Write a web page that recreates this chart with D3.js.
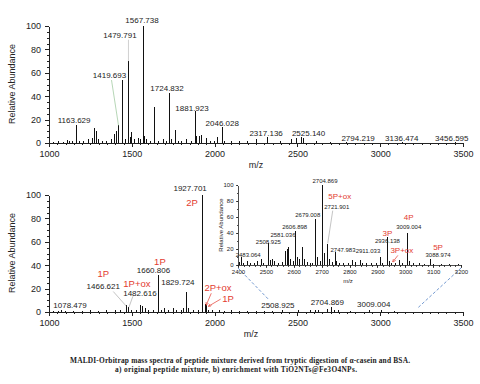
<!DOCTYPE html>
<html>
<head>
<meta charset="utf-8">
<script src="https://cdn.jsdelivr.net/npm/d3@7"></script>
<style>
  body { margin: 0; background: #fff; }
  svg { display: block; font-family: "Liberation Sans", Arial, sans-serif; }
</style>
</head>
<body>
<svg id="chart" width="480" height="384"></svg>
<script>
// ─── Data ──────────────────────────────────────────────────────────────────
const xTicks = [1000, 1500, 2000, 2500, 3000, 3500];
const yTicks = [0, 20, 40, 60, 80, 100];
const insetXTicks = [2400, 2500, 2600, 2700, 2800, 2900, 3000, 3100, 3200];

// a) original peptide mixture: [m/z, relative abundance]
const origPeaks = [
  [1030,1],[1060,1.5],[1085,1],[1110,2.5],[1125,2],[1140,1.5],[1163.629,15],[1185,2],
  [1210,1.5],[1240,3],[1262,4],[1274,13],[1288,10],[1300,3],[1325,2],[1350,1.5],
  [1380,3],[1395,8],[1405,10],[1419.693,15],[1445,54],[1460,3],[1479.791,70],[1490,5],
  [1499,9],[1515,3],[1540,4],[1555,3],[1567.738,100],[1575,6],[1590,3],[1615,2],
  [1640,31],[1660,2],[1690,3],[1710,2],[1724.832,43],[1740,3],[1761,11],[1780,2],
  [1800,2],[1830,3],[1860,2],[1881.923,27],[1890,6],[1906,6],[1922,7],[1950,4],
  [1975,2],[2000,2],[2020,5],[2046.028,14],[2060,2],[2100,1.5],[2150,2],[2200,1.5],
  [2256,3],[2317.136,5],[2400,2],[2467,3],[2497,4],[2525.140,5],[2534,4],[2618,2],
  [2700,1],[2794.219,1],[3136.474,1],[3456.595,0.8]
];
const origLabels = [1163.629, 1419.693, 1479.791, 1567.738, 1724.832, 1881.923,
  2046.028, 2317.136, 2525.140, 2794.219, 3136.474, 3456.595];

// b) enrichment with TiO2NTs@Fe3O4NPs
const enrPeaks = [
  [1030,1],[1060,1],[1078.479,1.5],[1100,1],[1150,1],[1200,1],[1250,1.5],[1300,1],
  [1350,1.5],[1400,1.5],[1430,2],[1466.621,6],[1482.616,4],[1500,2],[1530,2],[1550,6],
  [1566,5],[1580,3],[1600,2],[1630,1.5],[1660.806,32],[1680,2],[1700,3],[1720,1.5],
  [1750,3],[1770,2],[1800,2],[1815,3],[1829.724,17],[1845,3],[1870,2],[1900,2],
  [1927.701,100],[1943.7,7],[1951.9,6],[1965,2],[1990,2],[2030,1.5],[2060,1],[2100,1.5],
  [2150,1],[2200,1],[2250,1],[2300,1],[2350,1],[2413,1.5],[2508.925,2],[2581,1.5],
  [2606.898,2],[2630,1.5],[2679.008,2.5],[2704.869,4],[2721.901,2],[2747.983,1.5],
  [2820,1],[2936.138,1.5],[3009.004,2],[3088.974,1]
];
const enrLabels = [1078.479, 1466.621, 1482.616, 1660.806, 1829.724, 1927.701,
  2508.925, 2704.869, 3009.004];
const enrTags = ["1P", "1P+ox", "1P", "2P", "2P+ox", "1P"];
const enrTagMz = [1466.621, 1482.616, 1660.806, 1927.701, 1943.7, 1951.9];

// inset: zoom of b) between 2400 and 3200
const insetPeaks = [
  [2405,4],[2413,10],[2420,3],[2433,5],[2445,2],[2460,3],[2470,5],[2483.064,7],
  [2490,3],[2508.925,28],[2515,6],[2525,8],[2532,5],[2545,3],[2560,4],[2572,18],
  [2578,20],[2581.036,22],[2590,8],[2600,5],[2606.898,42],[2612,10],[2622,8],[2630,22],
  [2638,8],[2650,4],[2660,3],[2668,3],[2679.008,57],[2686,10],[2695,5],[2704.869,100],
  [2710,15],[2721.901,26],[2728,8],[2738,4],[2747.983,16],[2754,5],[2765,2],[2780,2],
  [2795,3],[2812,6],[2820,4],[2838,6],[2845,3],[2860,2],[2880,2],[2896,3],
  [2911.033,10],[2920,3],[2936.138,35],[2942,5],[2952,3],[2965,2],[2980,6],[2990,3],
  [3009.004,40],[3015,5],[3030,2],[3050,2],[3070,1.5],[3088.974,7],[3100,1.5],
  [3130,1],[3160,1],[3190,1]
];
const insetLabels = [2483.064, 2508.925, 2581.036, 2606.898, 2679.008, 2704.869,
  2721.901, 2747.983, 2911.033, 2936.138, 3009.004, 3088.974];
const insetTags = ["5P+ox", "3P", "3P+ox", "4P", "5P"];
const insetTagMz = [2721.901, 2936.138, 2952, 3009.004, 3088.974];

// ─── Layout (label placement: [dx px, baseline level]) ─────────────────────
const origLabelPos = [[-2,17],[-9,55.5],[-8.5,90],[-1,102.5],[-2,44.5],[-3,27.4],
  [0,14.5],[-1,6],[7,6],[12,1.7],[-1,1.7],[-4,1.7]];
const enrLabelPos = [[8,3.4],[-23,19.7],[11,13.7],[-5,33.3],[-8.5,23],[-12.5,103.4],
  [-21,3.4],[-4,6],[-8,4.3]];
const enrTagPos = [[-23,29.5],[8,21.7],[1.5,40.5],[-10.5,91],[12.7,18.3],[21.5,8.9]];
const insetLabelPos = [[-13,10],[0,26],[-5.5,35],[-1,45],[-8,60],[2,102.5],[9,70],
  [8,16],[-12.5,15],[0,27.5],[1,45],[8,10]];
const insetTagPos = [[12,82.5],[0,36],[10,15],[1,56],[8,19]];

const RED = "#e33b2f";
const svg = d3.select("#chart");
svg.append("rect").attr("width", 480).attr("height", 384).attr("fill", "#fff");

const defs = svg.append("defs");
defs.append("marker").attr("id", "arr").attr("viewBox", "0 0 6 6")
  .attr("refX", 5).attr("refY", 3).attr("markerWidth", 5).attr("markerHeight", 5)
  .attr("orient", "auto")
  .append("path").attr("d", "M0,0.5L6,3L0,5.5").attr("fill", "none")
  .attr("stroke", RED).attr("stroke-width", 1);

// ─── Helpers ───────────────────────────────────────────────────────────────
function drawAxes(x, y, o) {
  const g = svg.append("g");
  const y0 = y(0);
  const minorX = d3.range(x.domain()[0], x.domain()[1] + 1, o.minorX);
  const minorY = d3.range(0, 101, o.minorY);

  g.append("g").attr("transform", `translate(0,${y0})`)
    .call(d3.axisBottom(x).tickValues(minorX).tickSize(o.minor).tickFormat(""))
    .call(a => a.select(".domain").remove());
  g.append("g").attr("transform", `translate(${x.range()[0]},0)`)
    .call(d3.axisLeft(y).tickValues(minorY).tickSize(o.minor).tickFormat(""))
    .call(a => a.select(".domain").remove());

  g.append("g").attr("transform", `translate(0,${y0})`)
    .call(d3.axisBottom(x).tickValues(o.xTicks).tickSize(o.major)
      .tickSizeOuter(0).tickPadding(o.pad).tickFormat(d3.format("d")))
    .attr("font-size", o.font).attr("font-family", null);
  g.append("g").attr("transform", `translate(${x.range()[0]},0)`)
    .call(d3.axisLeft(y).tickValues(yTicks).tickSize(o.major)
      .tickSizeOuter(0).tickPadding(o.pad))
    .attr("font-size", o.font).attr("font-family", null);

  g.selectAll("line, path").attr("stroke", "#222").attr("stroke-width", o.sw)
    .attr("shape-rendering", "crispEdges");
  g.selectAll("text").attr("fill", "#222");

  g.append("text").attr("transform", `translate(${o.yTitle[0]},${o.yTitle[1]}) rotate(-90)`)
    .attr("text-anchor", "middle").attr("font-size", o.font).attr("fill", "#222")
    .text("Relative Abundance");
  g.append("text").attr("x", o.xTitle[0]).attr("y", o.xTitle[1])
    .attr("text-anchor", "middle").attr("font-size", o.font).attr("fill", "#222")
    .text("m/z");
}

function drawPeaks(x, y, peaks, sw) {
  svg.append("g").selectAll("line").data(peaks).join("line")
    .attr("x1", d => x(d[0])).attr("x2", d => x(d[0]))
    .attr("y1", y(0)).attr("y2", d => y(d[1]))
    .attr("stroke", "#111").attr("stroke-width", sw)
    .attr("shape-rendering", "crispEdges");
}

function drawTexts(x, y, values, pos, fmt, size, color) {
  svg.append("g").selectAll("text").data(values).join("text")
    .attr("x", (d, i) => x(d) + pos[i][0])
    .attr("y", (d, i) => y(pos[i][1]))
    .attr("text-anchor", "middle").attr("font-size", size).attr("fill", color)
    .text((d, i) => fmt(d, i));
}

function leader(x1, y1, x2, y2, color, arrow) {
  const l = svg.append("line").attr("x1", x1).attr("y1", y1).attr("x2", x2).attr("y2", y2)
    .attr("stroke", color).attr("stroke-width", 0.7);
  if (arrow) l.attr("marker-end", "url(#arr)");
}

const mzFmt = d => d.toFixed(3);

// ─── Panel a ───────────────────────────────────────────────────────────────
const xA = d3.scaleLinear().domain([1000, 3500]).range([49, 463]);
const yA = d3.scaleLinear().domain([0, 100]).range([143, 26]);
drawAxes(xA, yA, { xTicks, major: 4, minor: 2, pad: 4, font: 9, sw: 1,
  minorX: 50, minorY: 5, yTitle: [15, 84], xTitle: [256, 168] });
drawPeaks(xA, yA, origPeaks, 1);
leader(xA(1419.693) - 7, yA(55.5) + 2, xA(1419.693), yA(15), "#96c496");
leader(xA(1479.791), yA(90) + 2, xA(1479.791), yA(70), "#bbb");
drawTexts(xA, yA, origLabels, origLabelPos, mzFmt, 8, "#222");

// ─── Panel b ───────────────────────────────────────────────────────────────
const xB = d3.scaleLinear().domain([1000, 3500]).range([49, 463]);
const yB = d3.scaleLinear().domain([0, 100]).range([312, 195]);
drawAxes(xB, yB, { xTicks, major: 4, minor: 2, pad: 4, font: 9, sw: 1,
  minorX: 50, minorY: 5, yTitle: [15, 253], xTitle: [251, 337] });
drawPeaks(xB, yB, enrPeaks, 1);
leader(xB(1466.621) - 13, yB(17.5), xB(1466.621), yB(5), "#aaa");
leader(xB(1482.616) + 4, yB(13.5), xB(1482.616), yB(4), "#aaa");
drawTexts(xB, yB, enrLabels, enrLabelPos, mzFmt, 8, "#222");
drawTexts(xB, yB, enrTagMz, enrTagPos, (d, i) => enrTags[i], 9.5, RED);
leader(xB(1943.7) + 6, yB(16), xB(1943.7) + 1, yB(6), RED, true);
leader(xB(1951.9) + 14, yB(11), xB(1951.9) + 2, yB(5), RED, true);

// ─── Inset ─────────────────────────────────────────────────────────────────
const xI = d3.scaleLinear().domain([2400, 3200]).range([238, 461]);
const yI = d3.scaleLinear().domain([0, 100]).range([265, 185]);

// zoom guides
const g0 = [xI(2400), yI(0) + 3, xB(2400), yB(0)];
const g1 = [xI(3200), yI(0) + 3, xB(3200), yB(0)];
[[g0, 0.72], [g1, 0.9]].forEach(([p, f]) => {
  svg.append("line").attr("x1", p[0]).attr("y1", p[1])
    .attr("x2", p[0] + (p[2] - p[0]) * f).attr("y2", p[1] + (p[3] - p[1]) * f)
    .attr("stroke", "#4f7fc4").attr("stroke-width", 0.8).attr("stroke-dasharray", "3,2");
});

drawAxes(xI, yI, { xTicks: insetXTicks, major: 2.5, minor: 1.5, pad: 2, font: 6, sw: 0.8,
  minorX: 20, minorY: 10, yTitle: [223, 225], xTitle: [348, 283] });
drawPeaks(xI, yI, insetPeaks, 1);
leader(xI(2721.901) + 5, yI(68), xI(2721.901), yI(27), "#aaa");
drawTexts(xI, yI, insetLabels, insetLabelPos, mzFmt, 6, "#222");
drawTexts(xI, yI, insetTagMz, insetTagPos, (d, i) => insetTags[i], 8, RED);
leader(xI(2952) + 6, yI(12), xI(2952) + 1, yI(4), RED, true);

// ─── Caption ───────────────────────────────────────────────────────────────
const cap = svg.append("g").attr("font-family", "'Liberation Serif', 'DejaVu Serif', serif")
  .attr("font-weight", "bold").attr("font-size", 7.4).attr("fill", "#222")
  .attr("text-anchor", "middle");
cap.append("text").attr("x", 240).attr("y", 363)
  .attr("textLength", 340).attr("lengthAdjust", "spacing")
  .text("MALDI-Orbitrap mass spectra of peptide mixture derived from tryptic digestion of α-casein and BSA.");
cap.append("text").attr("x", 236).attr("y", 371.5)
  .attr("textLength", 242).attr("lengthAdjust", "spacing")
  .text("a) original peptide mixture, b) enrichment with TiO2NTs@Fe3O4NPs.");
</script>
</body>
</html>
